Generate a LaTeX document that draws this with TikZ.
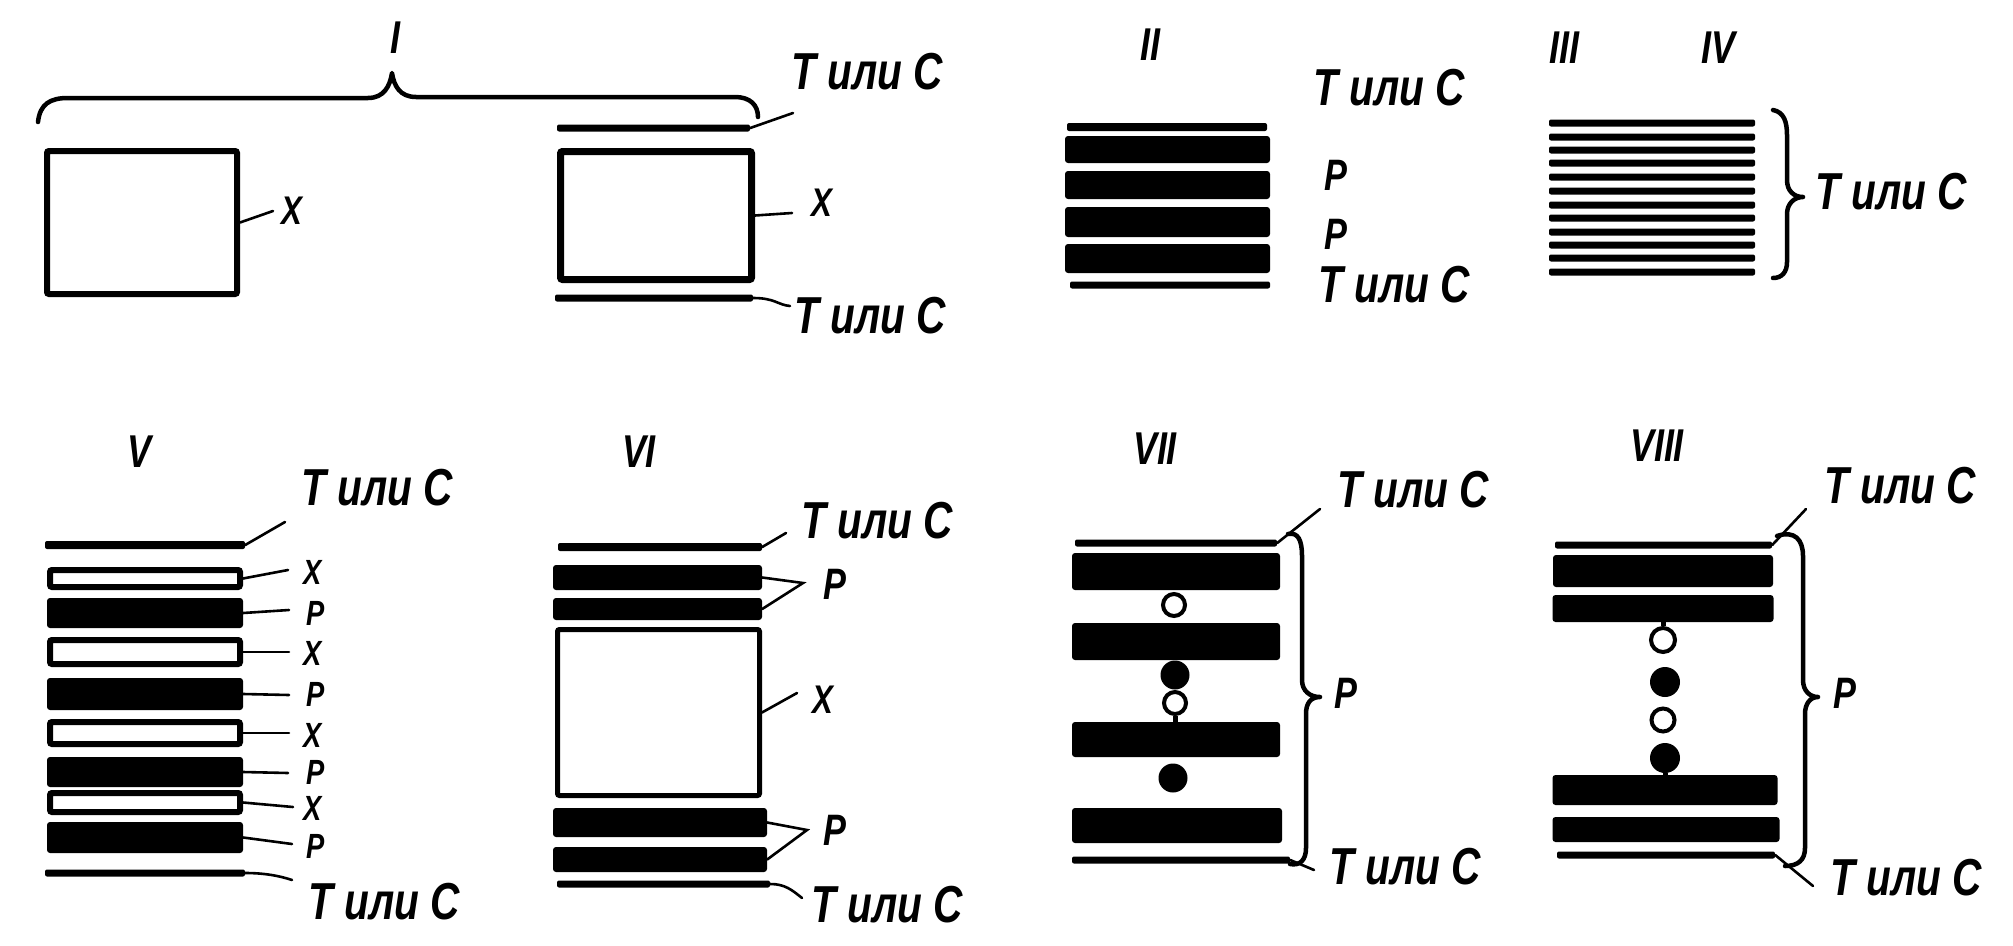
\documentclass[tikz,border=0pt]{standalone}
\usepackage{fontspec}
\newfontfamily\lbl{Liberation Sans}[FakeStretch=0.78]
\newcommand\tcsize{\fontsize{52}{52}\selectfont}
\newcommand\xsize{\fontsize{40}{40}\selectfont}
\newcommand\psize{\fontsize{44}{44}\selectfont}
\newcommand\vlabsize{\fontsize{35}{35}\selectfont}
\newcommand\rsize{\fontsize{46}{46}\selectfont}
\begin{document}
\begin{tikzpicture}[x=1pt,y=-1pt,
  lab/.style={inner sep=0pt, font=\lbl\bfseries\itshape\tcsize},
  xlab/.style={inner sep=0pt, font=\lbl\bfseries\itshape\xsize},
  plab/.style={inner sep=0pt, font=\lbl\bfseries\itshape\psize},
  vlab/.style={inner sep=0pt, font=\lbl\bfseries\itshape\vlabsize},
  roman/.style={inner sep=0pt, font=\lbl\bfseries\itshape\rsize},
  tline/.style={fill=black, draw=none, inner sep=0pt, minimum height=7pt, rounded corners=2pt},
  bar/.style={fill=black, draw=none, inner sep=0pt, rounded corners=3pt},
  xbox/.style={draw=black, fill=white, line width=6pt, inner sep=0pt, rounded corners=2pt},
  lead/.style={draw=black, line width=2.6pt, line cap=round},
  brace/.style={draw=black, line width=4.5pt, line cap=round, line join=round},
  stem/.style={draw=black, line width=5pt},
  ocirc/.style={circle, draw=black, fill=white, line width=4pt, inner sep=0pt, minimum size=22pt},
  fcirc/.style={circle, fill=black, draw=none, inner sep=0pt, minimum size=29pt}]
\useasboundingbox (0,0) rectangle (2013,945);
\fill[white] (0,0) rectangle (2013,945);

% ---------------- Panel I ----------------
\node[roman] (nI) at (395,38) {I};
\draw[brace] (38,122) .. controls (40,104) and (50,98) .. (68,98) -- (368,98)
  .. controls (384,98) and (390,86) .. (392,73)
  .. controls (394,86) and (400,97) .. (416,97) -- (735,97)
  .. controls (750,97) and (758,105) .. (758,117);
\node[xbox, minimum width=190pt, minimum height=143pt] (Ia) at (142,222.5) {};
\node[xlab] (IaX) at (292,211) {Х};
\coordinate (IaXe) at (273,211);
\draw[lead] (Ia.east) -- (IaXe);

\node[tline, minimum width=193pt] (Ib) at (653.5,128) {};
\node[lab] (IbT) at (867,72) {Т или С};
\coordinate (IbTe) at (793,113);
\draw[lead] (Ib.east) -- (IbTe);
\node[xbox, line width=7pt, minimum width=191pt, minimum height=128pt] (Ic) at (656,215.5) {};
\node[xlab] (IcX) at (822,203) {Х};
\coordinate (IcXe) at (792,213);
\draw[lead] (Ic.east) -- (IcXe);
\node[tline, minimum width=198pt] (Id) at (654,298) {};
\node[lab] (IdT) at (870,316) {Т или С};
\coordinate (IdTe) at (790,306);
\draw[lead] (Id.east) .. controls (775,298) and (778,305) .. (IdTe);

% ---------------- Panel II ----------------
\node[roman] (nII) at (1150,45) {II};
\node[tline, minimum width=200pt, minimum height=8pt] (IIa) at (1167,127) {};
\node[bar, minimum width=205pt, minimum height=27pt] (IIb1) at (1167.5,149.5) {};
\node[bar, minimum width=205pt, minimum height=28pt] (IIb2) at (1167.5,185) {};
\node[bar, minimum width=205pt, minimum height=30pt] (IIb3) at (1167.5,222) {};
\node[bar, minimum width=205pt, minimum height=29pt] (IIb4) at (1167.5,258.5) {};
\node[tline, minimum width=200pt] (IIc) at (1170,285) {};
\node[lab] (IIT1) at (1389,88) {Т или С};
\node[plab] (IIP1) at (1336,175) {Р};
\node[plab] (IIP2) at (1336,234) {Р};
\node[lab] (IIT2) at (1394,285) {Т или С};

% ---------------- Panel III / IV ----------------
\node[roman] (nIII) at (1564,48) {III};
\node[roman] (nIV) at (1718,48) {IV};
\foreach \yy [count=\i] in {123,137,150,163,177,191,205,218,232,245,258,272}
  \node[tline, minimum width=206pt] (L\i) at (1652,\yy) {};
\draw[brace] (1773,110) .. controls (1784,112) and (1787,122) .. (1787,135) -- (1787,180)
  .. controls (1787,191) and (1794,197) .. (1803,197)
  .. controls (1794,197) and (1787,204) .. (1787,214) -- (1787,262)
  .. controls (1787,272) and (1782,278) .. (1773,278);
\node[lab] (IIIT) at (1891,192) {Т или С};

% ---------------- Panel V ----------------
\node[roman] (nV) at (139,452) {V};
\node[tline, minimum width=200pt, minimum height=8pt] (Va) at (145,545) {};
\node[lab] (VT1) at (377,488) {Т или С};
\coordinate (VT1e) at (285,522);
\draw[lead] (Va.east) -- (VT1e);
\node[xbox, minimum width=190pt, minimum height=17pt] (Vx1) at (145,578.5) {};
\node[bar, minimum width=196pt, minimum height=30pt] (Vp1) at (145,613) {};
\node[xbox, minimum width=190pt, minimum height=24pt] (Vx2) at (145,652) {};
\node[bar, minimum width=196pt, minimum height=32pt] (Vp2) at (145,694) {};
\node[xbox, minimum width=190pt, minimum height=22pt] (Vx3) at (145,733) {};
\node[bar, minimum width=196pt, minimum height=30pt] (Vp3) at (145,772) {};
\node[xbox, minimum width=190pt, minimum height=19pt] (Vx4) at (145,802.5) {};
\node[bar, minimum width=196pt, minimum height=31pt] (Vp4) at (145,837.5) {};
\node[tline, minimum width=200pt] (Vb) at (145,873) {};
\node[vlab] (VX1) at (313,572) {Х};
\node[vlab] (VP1) at (316,613) {Р};
\node[vlab] (VX2) at (313,653) {Х};
\node[vlab] (VP2) at (316,694) {Р};
\node[vlab] (VX3) at (313,735) {Х};
\node[vlab] (VP3) at (316,772) {Р};
\node[vlab] (VX4) at (313,808) {Х};
\node[vlab] (VP4) at (316,846) {Р};
\coordinate (VX1e) at (288,570);
\coordinate (VP1e) at (289,610);
\coordinate (VX2e) at (289,652);
\coordinate (VP2e) at (289,695);
\coordinate (VX3e) at (289,733);
\coordinate (VP3e) at (288,773);
\coordinate (VX4e) at (293,807);
\coordinate (VP4e) at (292,844);
\draw[lead] (Vx1.east) -- (VX1e);
\draw[lead] (Vp1.east) -- (VP1e);
\draw[lead] (Vx2.east) -- (VX2e);
\draw[lead] (Vp2.east) -- (VP2e);
\draw[lead] (Vx3.east) -- (VX3e);
\draw[lead] (Vp3.east) -- (VP3e);
\draw[lead] (Vx4.east) -- (VX4e);
\draw[lead] (Vp4.east) -- (VP4e);
\node[lab] (VT2) at (384,902) {Т или С};
\coordinate (VT2e) at (292,880);
\draw[lead] (Vb.east) .. controls (265,873) and (280,876) .. (VT2e);

% ---------------- Panel VI ----------------
\node[roman] (nVI) at (639,452) {VI};
\node[tline, minimum width=204pt, minimum height=8pt] (VIa) at (660,547) {};
\node[lab] (VIT1) at (877,521) {Т или С};
\coordinate (VIT1e) at (786,533);
\draw[lead] (VIa.east) -- (VIT1e);
\node[bar, minimum width=209pt, minimum height=25pt] (VIp1) at (657.5,577.5) {};
\node[bar, minimum width=209pt, minimum height=22pt] (VIp2) at (657.5,609) {};
\node[plab] (VIP1) at (835,584) {Р};
\coordinate (VIP1e) at (803,583);
\draw[lead] (VIp1.east) -- (VIP1e) -- (VIp2.east);
\node[xbox, line width=5pt, minimum width=202pt, minimum height=166pt] (VIx) at (658.5,712.5) {};
\node[xlab] (VIX) at (823,700) {Х};
\coordinate (VIXe) at (797,693);
\draw[lead] (VIx.east) -- (VIXe);
\node[bar, minimum width=214pt, minimum height=29pt] (VIp3) at (660,822.5) {};
\node[bar, minimum width=214pt, minimum height=25pt] (VIp4) at (660,859.5) {};
\node[plab] (VIP2) at (835,830) {Р};
\coordinate (VIP2e) at (807,830);
\draw[lead] (VIp3.east) -- (VIP2e) -- (VIp4.east);
\node[tline, minimum width=213pt] (VIb) at (663.5,884) {};
\node[lab] (VIT2) at (887,905) {Т или С};
\coordinate (VIT2e) at (802,898);
\draw[lead] (VIb.east) .. controls (785,884) and (792,890) .. (VIT2e);

% ---------------- Panel VII ----------------
\node[roman] (nVII) at (1155,449) {VII};
\node[tline, minimum width=202pt] (VIIa) at (1176,543) {};
\node[bar, minimum width=208pt, minimum height=37pt] (VIIb1) at (1176,571.5) {};
\node[bar, minimum width=208pt, minimum height=37pt] (VIIb2) at (1176,641.5) {};
\node[bar, minimum width=208pt, minimum height=35pt] (VIIb3) at (1176,739.5) {};
\node[bar, minimum width=210pt, minimum height=35pt] (VIIb4) at (1177,825.5) {};
\node[tline, minimum width=218pt] (VIIc) at (1181,860) {};
\node[ocirc] (VIIc1) at (1174,605) {};
\node[fcirc] (VIIc2) at (1175,675) {};
\node[ocirc] (VIIc3) at (1175,703) {};
\node[fcirc] (VIIc4) at (1173,778) {};
\draw[stem] (VIIc3.south) -- (VIIc3.south |- VIIb3.north);
\draw[brace] (1288,534) .. controls (1298,532) and (1302,540) .. (1302,556) -- (1302,680)
  .. controls (1302,691) and (1310,697) .. (1320,697)
  .. controls (1310,697) and (1306,704) .. (1306,714) -- (1306,848)
  .. controls (1306,860) and (1300,866) .. (1290,864);
\node[lab] (VIIT1) at (1413,490) {Т или С};
\coordinate (VIIT1e) at (1320,509);
\draw[lead] (VIIa.east) -- (VIIT1e);
\node[plab] (VIIP) at (1346,693) {Р};
\node[lab] (VIIT2) at (1405,867) {Т или С};
\coordinate (VIIT2e) at (1314,870);
\draw[lead] (VIIc.east) -- (VIIT2e);

% ---------------- Panel VIII ----------------
\node[roman] (nVIII) at (1657,446) {VIII};
\node[tline, minimum width=217pt] (VIIIa) at (1663.5,545) {};
\node[bar, minimum width=220pt, minimum height=32pt] (VIIIb1) at (1663,571) {};
\node[bar, minimum width=221pt, minimum height=27pt] (VIIIb2) at (1663,608.5) {};
\node[bar, minimum width=225pt, minimum height=30pt] (VIIIb3) at (1665,790) {};
\node[bar, minimum width=227pt, minimum height=25pt] (VIIIb4) at (1666,829.5) {};
\node[tline, minimum width=218pt] (VIIIc) at (1666,855) {};
\node[ocirc, minimum size=24pt] (VIIIc1) at (1663,640) {};
\node[fcirc, minimum size=30pt] (VIIIc2) at (1665,682) {};
\node[ocirc, minimum size=23pt] (VIIIc3) at (1663,720) {};
\node[fcirc, minimum size=30pt] (VIIIc4) at (1665,758) {};
\draw[stem] (VIIIc1.north) -- (VIIIc1.north |- VIIIb2.south);
\draw[stem] (VIIIc4.south) -- (VIIIc4.south |- VIIIb3.north);
\draw[brace] (1777,536) .. controls (1795,530) and (1803,540) .. (1803,556) -- (1803,680)
  .. controls (1803,691) and (1810,697) .. (1818,697)
  .. controls (1810,697) and (1805,704) .. (1805,714) -- (1805,848)
  .. controls (1805,860) and (1798,866) .. (1785,866);
\node[lab] (VIIIT1) at (1900,486) {Т или С};
\coordinate (VIIIT1e) at (1806,509);
\draw[lead] (VIIIa.east) -- (VIIIT1e);
\node[plab] (VIIIP) at (1845,693) {Р};
\node[lab] (VIIIT2) at (1906,878) {Т или С};
\coordinate (VIIIT2e) at (1813,886);
\draw[lead] (VIIIc.east) -- (VIIIT2e);
\end{tikzpicture}
\end{document}
